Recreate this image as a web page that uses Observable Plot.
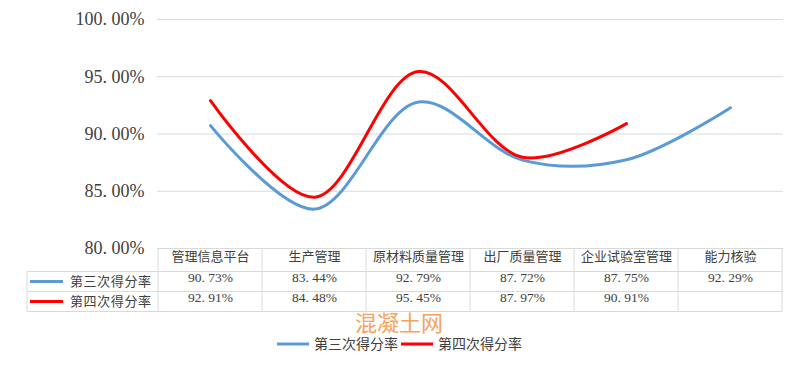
<!DOCTYPE html>
<html>
<head>
<meta charset="utf-8">
<script src="https://cdn.jsdelivr.net/npm/d3@7"></script>
<script src="https://cdn.jsdelivr.net/npm/@observablehq/plot@0.6"></script>
<style>
  html, body { margin: 0; padding: 0; background: #fff; }
  #chart { width: 800px; height: 367px; }
</style>
</head>
<body>
<div id="chart"></div>
<script>
const categories = ["管理信息平台", "生产管理", "原材料质量管理", "出厂质量管理", "企业试验室管理", "能力核验"];
const seriesNames = ["第三次得分率", "第四次得分率"];
const series3 = [90.73, 83.44, 92.79, 87.72, 87.75, 92.29];
const series4 = [92.91, 84.48, 95.45, 87.97, 90.91, null];
const yTicks = [80, 85, 90, 95, 100];
const colors = ["#5b9bd5", "#ff0000"];

const fmt = v => v.toFixed(2).replace(".", ". ") + "%";
const data3 = categories.map((c, i) => ({cat: c, value: series3[i]})).filter(d => d.value != null);
const data4 = categories.map((c, i) => ({cat: c, value: series4[i]})).filter(d => d.value != null);

const cjk = "'Noto Sans CJK SC', sans-serif";
const serif = "'Liberation Serif', 'DejaVu Serif', serif";
const textColor = "#404040";
const gridColor = "#d9d9d9";

const chart = Plot.plot({
  width: 800,
  height: 367,
  marginTop: 19,
  marginBottom: 119,
  marginLeft: 157,
  marginRight: 17,
  style: {background: "#fff", color: textColor},
  x: {type: "point", domain: categories, padding: 0.5, axis: null},
  y: {domain: [80, 100]},
  marks: [
    Plot.ruleY(yTicks, {stroke: gridColor, strokeWidth: 1}),
    Plot.axisY({ticks: yTicks, tickSize: 0, tickPadding: 13, tickFormat: fmt,
      fontSize: 18, fontFamily: serif, fill: textColor, label: null}),
    Plot.line(data3, {x: "cat", y: "value", curve: "catmull-rom", stroke: colors[0], strokeWidth: 3}),
    Plot.line(data4, {x: "cat", y: "value", curve: "catmull-rom", stroke: colors[1], strokeWidth: 3}),
    Plot.text(categories, {x: d => d, frameAnchor: "bottom", dy: 12.5, text: d => d,
      fontSize: 13, fontFamily: cjk, fill: textColor, style: "letter-spacing:0.6px"}),
    Plot.text(data3, {x: "cat", frameAnchor: "bottom", dy: 33.5, text: d => fmt(d.value),
      fontSize: 13.5, fontFamily: serif, fill: textColor}),
    Plot.text(data4, {x: "cat", frameAnchor: "bottom", dy: 53.5, text: d => fmt(d.value),
      fontSize: 13.5, fontFamily: serif, fill: textColor})
  ]
});

document.getElementById("chart").appendChild(chart);

// Table grid, row labels, legend and watermark
const svg = d3.select(chart);
const xs = chart.scale("x");
const step = xs.apply(categories[1]) - xs.apply(categories[0]);
const tRight = xs.apply(categories[categories.length - 1]) + step / 2;
const tTop = 248, hdrY = 271.5, r1Y = 291.5, r2Y = 311.5, labelLeft = 27;

const g = svg.append("g").attr("stroke", gridColor).attr("stroke-width", 1);
const bounds = categories.map(c => xs.apply(c) - step / 2).concat([tRight]);
bounds.forEach(x => g.append("line").attr("x1", x).attr("x2", x).attr("y1", tTop).attr("y2", r2Y));
g.append("line").attr("x1", labelLeft).attr("x2", labelLeft).attr("y1", hdrY).attr("y2", r2Y);
[hdrY, r1Y, r2Y].forEach(y => g.append("line").attr("x1", labelLeft).attr("x2", tRight).attr("y1", y).attr("y2", y));

const rowYs = [281.5, 301.5];
seriesNames.forEach((name, i) => {
  svg.append("line").attr("x1", 30).attr("x2", 63).attr("y1", rowYs[i]).attr("y2", rowYs[i])
    .attr("stroke", colors[i]).attr("stroke-width", 3);
  svg.append("text").attr("x", 70).attr("y", rowYs[i]).attr("dy", "0.35em")
    .attr("text-anchor", "start")
    .attr("font-family", cjk).attr("font-size", 13).attr("fill", textColor)
    .style("letter-spacing", "0.6px").text(name);
});

// watermark
svg.append("text").attr("x", 399).attr("y", 323).attr("dy", "0.35em").attr("text-anchor", "middle")
  .attr("font-family", cjk).attr("font-size", 22).attr("fill", "#f5a35a").text("混凝土网");

// legend
const legendX = [277, 401];
seriesNames.forEach((name, i) => {
  svg.append("line").attr("x1", legendX[i]).attr("x2", legendX[i] + 32).attr("y1", 344).attr("y2", 344)
    .attr("stroke", colors[i]).attr("stroke-width", 3);
  svg.append("text").attr("x", legendX[i] + 37).attr("y", 344).attr("dy", "0.35em")
    .attr("text-anchor", "start")
    .attr("font-family", cjk).attr("font-size", 14).attr("fill", textColor).text(name);
});
</script>
</body>
</html>
